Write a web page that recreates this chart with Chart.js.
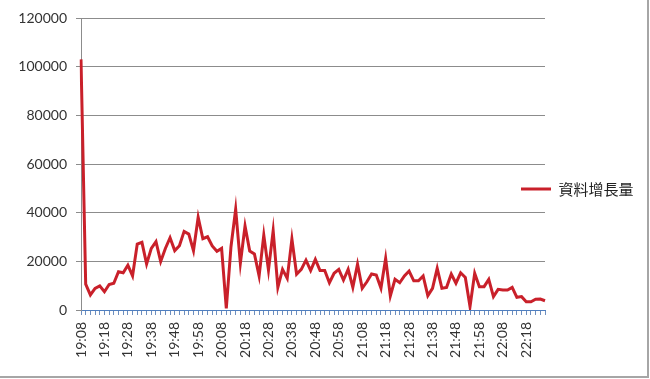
<!DOCTYPE html>
<html>
<head>
<meta charset="utf-8">
<script src="https://cdn.jsdelivr.net/npm/chart.js@4.4.1/dist/chart.umd.min.js"></script>
<style>
  html, body { margin: 0; padding: 0; background: #fff; }
  #wrap { width: 650px; height: 379px; }
</style>
</head>
<body>
<div id="wrap"><canvas id="growthChart"></canvas></div>
<script>
const seriesName = "資料增長量";

const times = [
  "19:08","19:10","19:12","19:14","19:16","19:18","19:20","19:22","19:24","19:26",
  "19:28","19:30","19:32","19:34","19:36","19:38","19:40","19:42","19:44","19:46",
  "19:48","19:50","19:52","19:54","19:56","19:58","20:00","20:02","20:04","20:06",
  "20:08","20:10","20:12","20:14","20:16","20:18","20:20","20:22","20:24","20:26",
  "20:28","20:30","20:32","20:34","20:36","20:38","20:40","20:42","20:44","20:46",
  "20:48","20:50","20:52","20:54","20:56","20:58","21:00","21:02","21:04","21:06",
  "21:08","21:10","21:12","21:14","21:16","21:18","21:20","21:22","21:24","21:26",
  "21:28","21:30","21:32","21:34","21:36","21:38","21:40","21:42","21:44","21:46",
  "21:48","21:50","21:52","21:54","21:56","21:58","22:00","22:02","22:04","22:06",
  "22:08","22:10","22:12","22:14","22:16","22:18","22:20","22:22","22:24","22:26"
];

const growth = [
  103000, 10600, 6200, 8900, 9900, 7500, 10500, 11000, 15700, 15300,
  18400, 14000, 27100, 27800, 18900, 25300, 28100, 19900, 25300, 29700,
  24400, 26400, 32300, 31200, 24400, 38100, 29300, 30100, 26300, 24100,
  25300, 700, 26000, 41400, 19200, 34500, 24200, 23000, 14000, 30800,
  16400, 32600, 9300, 16700, 13000, 29200, 14700, 16700, 20500, 16200,
  20800, 16200, 16200, 11200, 15100, 16700, 12300, 16700, 9300, 18800,
  8900, 11600, 14800, 14400, 9000, 21200, 5800, 12600, 11200, 14000,
  16000, 12000, 12000, 14000, 5900, 8900, 17100, 8900, 9300, 14800,
  11000, 15300, 13400, 1400, 15100, 9600, 9600, 12600, 5500, 8500,
  8200, 8200, 9300, 5200, 5500, 3400, 3400, 4400, 4500, 3800
];

const yMin = 0;
const yMax = 120000;
const yStep = 20000;
const labelEvery = 5;

// legend sits partly over the plot like the original, and the outer frame
const chartFrame = {
  id: "chartFrame",
  afterLayout(chart) {
    const lg = chart.legend;
    if (!lg) return;
    lg.left = 511;
    lg.right = 646;
    lg.top = 189 - 7.5 - 10;
    lg.bottom = lg.top + 40;
  },
  afterDraw(chart) {
    const ctx = chart.ctx;
    ctx.save();
    ctx.strokeStyle = "#a6a6a6";
    ctx.lineWidth = 2;
    ctx.beginPath();
    ctx.moveTo(648, 0);
    ctx.lineTo(648, 377);
    ctx.lineTo(0, 377);
    ctx.stroke();
    ctx.restore();
  }
};

const tickFont = { family: "Lato, 'Liberation Sans', sans-serif", size: 14 };

new Chart(document.getElementById("growthChart"), {
  type: "line",
  data: {
    labels: times,
    datasets: [{
      label: seriesName,
      data: growth,
      borderColor: "#c9202a",
      backgroundColor: "#c9202a",
      borderWidth: 3,
      pointRadius: 0,
      tension: 0,
      fill: false
    }]
  },
  options: {
    responsive: true,
    maintainAspectRatio: false,
    devicePixelRatio: 1,
    animation: false,
    layout: { padding: { left: 0, top: 18, right: 0, bottom: 0 } },
    plugins: {
      tooltip: { enabled: false },
      legend: {
        position: "right",
        align: "start",
        maxWidth: 105,
        labels: {
          usePointStyle: true,
          pointStyle: "line",
          pointStyleWidth: 30,
          padding: 10,
          color: "#222",
          font: { family: "'Noto Sans CJK TC', 'Noto Sans CJK SC', sans-serif", size: 15 }
        }
      }
    },
    scales: {
      x: {
        offset: false,
        afterFit: (s) => { s.height = 69; },
        border: { color: "#4f7fc0", width: 1 },
        grid: { drawOnChartArea: false, drawTicks: true, tickLength: 5, color: "#6e8fbf" },
        ticks: {
          autoSkip: false,
          maxRotation: 90,
          minRotation: 90,
          padding: 7,
          color: "#333",
          font: tickFont,
          callback: function (value, index) {
            return index % labelEvery === 0 ? this.getLabelForValue(value) : "";
          }
        }
      },
      y: {
        min: yMin,
        max: yMax,
        afterFit: (s) => { s.width = 81; },
        border: { color: "#8c8c8c", width: 1 },
        grid: {
          color: (c) => (c.tick && c.tick.value === 0 ? "rgba(0,0,0,0)" : "#8c8c8c"),
          tickColor: "#8c8c8c",
          tickLength: 5
        },
        ticks: {
          stepSize: yStep,
          padding: 9,
          color: "#333",
          font: tickFont,
          callback: (v) => String(v)
        }
      }
    }
  },
  plugins: [chartFrame]
});
</script>
</body>
</html>
